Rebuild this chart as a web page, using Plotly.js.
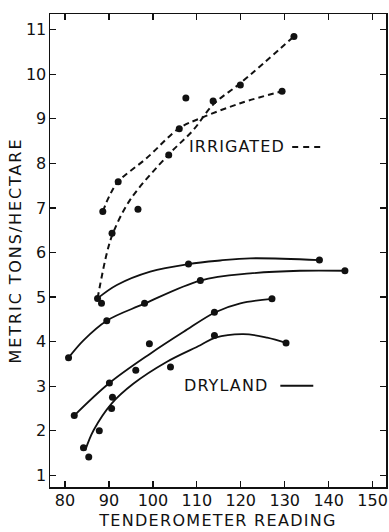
<!DOCTYPE html>
<html>
<head>
<meta charset="utf-8">
<script src="https://cdn.plot.ly/plotly-3.0.1.min.js"></script>
<style>
  html, body { margin: 0; padding: 0; background: #fff; }
  #chart { width: 389px; height: 532px; }
  .xtitle { letter-spacing: 1.3px; }
  .ytitle { letter-spacing: 1.9px; }
  .annotation-text { letter-spacing: 1.1px; }
</style>
</head>
<body>
<div id="chart"></div>
<script>
// ---- Data ----
// Tick values
const xTicks = [80, 90, 100, 110, 120, 130, 140, 150];
const yTicks = [1, 2, 3, 4, 5, 6, 7, 8, 9, 10, 11];

// Irrigated observations (dots)
const irrDotsX = [88.6, 92.1, 90.7, 96.6, 103.6, 106.0, 107.5, 113.7, 119.9, 129.4, 132.1];
const irrDotsY = [6.92, 7.59, 6.43, 6.97, 8.19, 8.78, 9.47, 9.40, 9.76, 9.62, 10.85];

// Dryland observations (dots)
const dryDotsX = [87.4, 88.3, 108.1, 137.9, 80.8, 89.5, 98.1, 110.8, 143.7, 82.1, 90.1, 99.2, 114.0, 127.1, 96.1, 104.0, 90.8, 90.6, 87.8, 84.2, 85.4, 114.0, 130.3];
const dryDotsY = [4.97, 4.86, 5.74, 5.83, 3.64, 4.47, 4.86, 5.37, 5.59, 2.34, 3.07, 3.95, 4.66, 4.96, 3.36, 3.43, 2.75, 2.50, 2.00, 1.62, 1.41, 4.14, 3.97];

// Fitted curves
const irr1X = [88.6, 90.1, 92.1, 98.6, 106.0, 111.0, 119.9, 129.4];
const irr1Y = [6.92, 7.27, 7.59, 8.12, 8.79, 9.02, 9.35, 9.62];
const irr2X = [87.4, 89.5, 90.9, 94.8, 103.5, 109.2, 113.8, 119.9, 132.1];
const irr2Y = [4.97, 5.98, 6.43, 7.18, 8.19, 8.75, 9.33, 9.80, 10.85];

const dryAX = [87.4, 91.8, 99.4, 108.1, 115.3, 122.1, 137.9];
const dryAY = [4.97, 5.27, 5.57, 5.74, 5.82, 5.87, 5.83];
const dryBX = [80.8, 84.2, 89.5, 97.8, 110.8, 122.1, 133.5, 143.7];
const dryBY = [3.64, 4.03, 4.47, 4.84, 5.37, 5.53, 5.59, 5.59];
const dryCX = [82.1, 90.1, 99.4, 107.0, 114.2, 119.9, 127.1];
const dryCY = [2.34, 3.07, 3.73, 4.22, 4.66, 4.86, 4.96];
const dryDX = [84.6, 86.5, 90.6, 95.6, 103.2, 110.8, 114.2, 120.6, 126.0, 130.3];
const dryDY = [1.56, 2.01, 2.61, 3.06, 3.55, 3.92, 4.09, 4.17, 4.09, 3.97];

// Labels
const irrLabel = 'IRRIGATED';
const dryLabel = 'DRYLAND';
const xTitle = 'TENDEROMETER READING';
const yTitle = 'METRIC TONS/HECTARE';

// ---- Build traces ----
const ink = '#111';
function solid(x, y) {
  return { x: x, y: y, type: 'scatter', mode: 'lines', hoverinfo: 'skip',
           line: { color: ink, width: 1.8, shape: 'spline', smoothing: 1 } };
}
function dashed(x, y) {
  return { x: x, y: y, type: 'scatter', mode: 'lines', hoverinfo: 'skip',
           line: { color: ink, width: 2, dash: '6px,4px', shape: 'spline', smoothing: 1 } };
}
const traces = [
  solid(dryAX, dryAY), solid(dryBX, dryBY), solid(dryCX, dryCY), solid(dryDX, dryDY),
  dashed(irr1X, irr1Y), dashed(irr2X, irr2Y),
  { x: dryDotsX, y: dryDotsY, type: 'scatter', mode: 'markers',
    marker: { color: ink, size: 7 } },
  { x: irrDotsX, y: irrDotsY, type: 'scatter', mode: 'markers',
    marker: { color: ink, size: 7 } }
];

const font = { family: 'DejaVu Sans, sans-serif', color: ink };
const axisCommon = {
  showgrid: false, zeroline: false, showline: true, linecolor: ink, linewidth: 1.5,
  mirror: 'ticks', ticks: 'inside', ticklen: 6, tickwidth: 1.3, tickcolor: ink,
  tickfont: Object.assign({ size: 16 }, font), fixedrange: true
};

const layout = {
  width: 389, height: 532,
  margin: { l: 50, r: 3, t: 14, b: 45 },
  paper_bgcolor: '#fff', plot_bgcolor: '#fff',
  showlegend: false,
  font: font,
  xaxis: Object.assign({}, axisCommon, {
    range: [76.58, 153.05], tickvals: xTicks, ticktext: xTicks.map(String),
    ticklabelstandoff: -2,
    title: { text: xTitle, font: Object.assign({ size: 16 }, font), standoff: 6 }
  }),
  yaxis: Object.assign({}, axisCommon, {
    range: [0.737, 11.353], tickvals: yTicks, ticktext: yTicks.map(String),
    ticklabelstandoff: -1,
    title: { text: yTitle, font: Object.assign({ size: 16 }, font), standoff: 0 }
  }),
  annotations: [
    { x: 119.2, y: 8.37, xref: 'x', yref: 'y', text: irrLabel, showarrow: false,
      font: Object.assign({ size: 16 }, font), xanchor: 'center', yanchor: 'middle' },
    { x: 116.7, y: 3.01, xref: 'x', yref: 'y', text: dryLabel, showarrow: false,
      font: Object.assign({ size: 16 }, font), xanchor: 'center', yanchor: 'middle' }
  ],
  shapes: [
    { type: 'line', xref: 'x', yref: 'y', x0: 131.7, x1: 138.8, y0: 8.37, y1: 8.37,
      line: { color: ink, width: 2, dash: '6px,5px' } },
    { type: 'line', xref: 'x', yref: 'y', x0: 129.0, x1: 136.5, y0: 3.01, y1: 3.01,
      line: { color: ink, width: 1.8 } }
  ]
};

Plotly.newPlot('chart', traces, layout, { staticPlot: true, displayModeBar: false });
</script>
</body>
</html>
